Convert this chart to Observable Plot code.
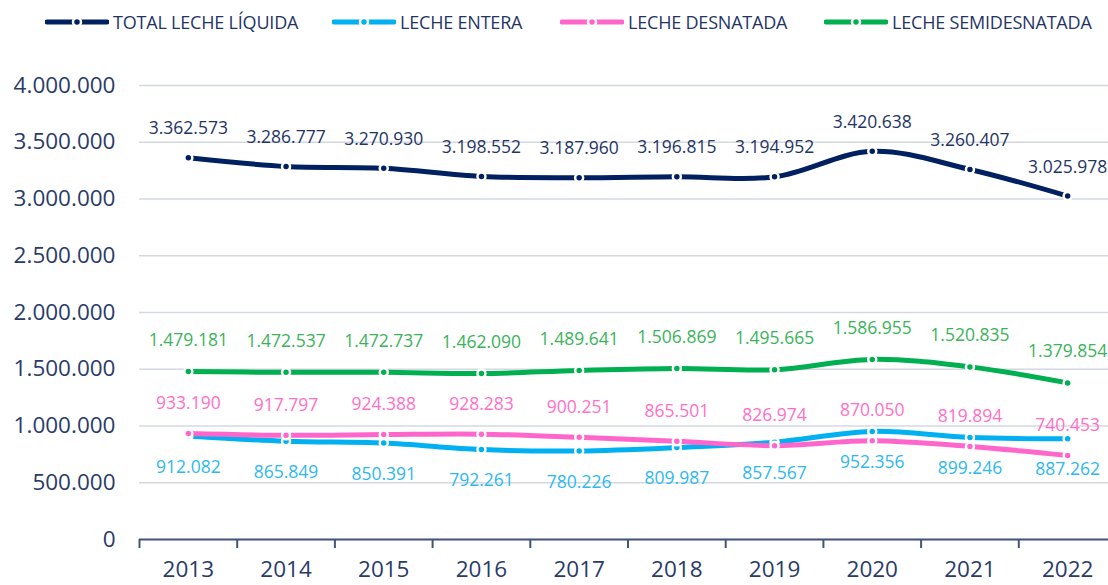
<!DOCTYPE html>
<html>
<head>
<meta charset="utf-8">
<script src="https://cdn.jsdelivr.net/npm/d3@7"></script>
<script src="https://cdn.jsdelivr.net/npm/@observablehq/plot@0.6"></script>
<style>
  html, body { margin: 0; padding: 0; background: #fff; }
  body { width: 1108px; height: 585px; overflow: hidden; font-family: "Open Sans", sans-serif; }
  #legend { position: relative; height: 45px; width: 1108px; }
  .item { position: absolute; top: 10px; height: 24px; display: flex; align-items: center; white-space: nowrap; }
  .item span { font-size: 18px; color: #1f3566; margin-left: 4px; letter-spacing: -0.2px; }
</style>
</head>
<body>
<div id="legend"></div>
<div id="chart"></div>
<script>
const years = [2013, 2014, 2015, 2016, 2017, 2018, 2019, 2020, 2021, 2022];
const totalLeche = [3362573, 3286777, 3270930, 3198552, 3187960, 3196815, 3194952, 3420638, 3260407, 3025978];
const lecheEntera = [912082, 865849, 850391, 792261, 780226, 809987, 857567, 952356, 899246, 887262];
const lecheDesnatada = [933190, 917797, 924388, 928283, 900251, 865501, 826974, 870050, 819894, 740453];
const lecheSemidesnatada = [1479181, 1472537, 1472737, 1462090, 1489641, 1506869, 1495665, 1586955, 1520835, 1379854];
const seriesNames = ["TOTAL LECHE LÍQUIDA", "LECHE ENTERA", "LECHE DESNATADA", "LECHE SEMIDESNATADA"];
const yTicks = [0, 500000, 1000000, 1500000, 2000000, 2500000, 3000000, 3500000, 4000000];

// styles (kept apart from data)
const lineColors = ["#002060", "#00b0f0", "#ff66cc", "#00b050"];
const labelColors = ["#1f3566", "#2fb8ee", "#ff6fc8", "#3bb35a"];
const labelDy = [-29, 31, -30, -31];
const legendLeft = [45, 332, 560, 824];

const allValues = [totalLeche, lecheEntera, lecheDesnatada, lecheSemidesnatada];
const fmt = d => d3.format(",")(d).replace(/,/g, ".");
const xEdges = years.map(y => y - 0.5).concat([years[years.length - 1] + 0.5]);

// legend
const legend = document.getElementById("legend");
seriesNames.forEach((name, i) => {
  const div = document.createElement("div");
  div.className = "item";
  div.style.left = legendLeft[i] + "px";
  div.innerHTML = `<svg width="64" height="12"><line x1="2" x2="62" y1="6" y2="6" stroke="${lineColors[i]}" stroke-width="5" stroke-linecap="round"/><circle cx="32" cy="6" r="4" fill="${lineColors[i]}" stroke="#fff" stroke-width="2.5"/></svg><span>${name}</span>`;
  legend.appendChild(div);
});

const marks = [
  Plot.gridY(yTicks, {stroke: "#d3d8e3", strokeOpacity: 1, strokeWidth: 1.4}),
  Plot.axisY(yTicks, {tickSize: 0, tickPadding: 24, tickFormat: fmt, fontSize: 22.5, color: "#2a3b69", label: null}),
  Plot.ruleY([0], {stroke: "#44557d", strokeWidth: 2}),
  Plot.axisX(xEdges, {tickSize: 9, tickFormat: () => "", stroke: "#44557d", strokeWidth: 2, label: null}),
  Plot.axisX(years, {tickSize: 0, tickPadding: 22, tickFormat: d => String(d), fontSize: 22.5, color: "#2a3b69", label: null})
];

allValues.forEach((vals, i) => {
  const rows = years.map((y, j) => ({year: y, value: vals[j]}));
  marks.push(Plot.line(rows, {x: "year", y: "value", stroke: lineColors[i], strokeWidth: 5, curve: "catmull-rom"}));
  marks.push(Plot.dot(rows, {x: "year", y: "value", r: 4, fill: lineColors[i], stroke: "#fff", strokeWidth: 2.5}));
});
allValues.forEach((vals, i) => {
  const rows = years.map((y, j) => ({year: y, value: vals[j]}));
  marks.push(Plot.text(rows, {x: "year", y: "value", text: d => fmt(d.value), dy: labelDy[i], fill: labelColors[i], fontSize: 17.5}));
});

const chart = Plot.plot({
  width: 1108,
  height: 540,
  marginTop: 40,
  marginBottom: 46,
  marginLeft: 139,
  marginRight: 0,
  style: {fontFamily: "'Open Sans', sans-serif", background: "#fff", overflow: "visible"},
  x: {type: "linear", domain: [xEdges[0], xEdges[xEdges.length - 1]], range: [139, 1116]},
  y: {domain: [0, 4000000]},
  marks
});
document.getElementById("chart").appendChild(chart);
</script>
</body>
</html>
